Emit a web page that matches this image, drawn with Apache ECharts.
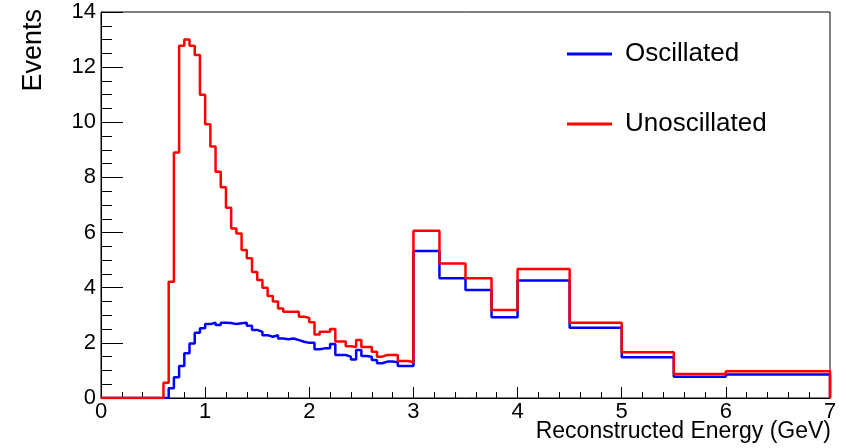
<!DOCTYPE html>
<html>
<head>
<meta charset="utf-8">
<script src="https://cdn.jsdelivr.net/npm/echarts@6/dist/echarts.min.js"></script>
<style>
  html, body { margin: 0; padding: 0; background: #fff; }
  #chart { width: 846px; height: 448px; }
</style>
</head>
<body>
<div id="chart"></div>
<script>
  // fine binning 0..3 GeV, then coarse bins up to 7 GeV
  const fineBinWidth = 0.05
  const fineBinCount = 60
  const coarseEdges = [3, 3.25, 3.5, 3.75, 4, 4.5, 5, 5.5, 6, 7]

  const oscillatedFine = [
    0, 0, 0, 0, 0, 0, 0, 0, 0, 0,
    0, 0, 0, 0.35, 0.75, 1.16, 1.62, 1.98, 2.37, 2.53,
    2.68, 2.73, 2.65, 2.73, 2.72, 2.68, 2.71, 2.73, 2.62, 2.47,
    2.4, 2.28, 2.22, 2.28, 2.16, 2.13, 2.16, 2.1, 2.04, 2.0,
    2.0, 1.77, 1.8, 1.8, 1.96, 1.56, 1.56, 1.5, 1.4, 1.74,
    1.52, 1.5, 1.38, 1.26, 1.32, 1.32, 1.3, 1.16, 1.16, 1.16
  ]
  const unoscillatedFine = [
    0, 0, 0, 0, 0, 0, 0, 0, 0, 0,
    0, 0, 0.55, 4.22, 8.9, 12.78, 13.0, 12.78, 12.44, 11.0,
    9.93, 9.12, 8.21, 7.64, 6.9, 6.15, 5.97, 5.37, 5.07, 4.57,
    4.28, 4.0, 3.7, 3.5, 3.25, 3.13, 3.13, 3.13, 2.95, 2.9,
    2.75, 2.3, 2.4, 2.4, 2.5, 2.05, 2.05, 1.88, 1.85, 2.1,
    1.85, 1.85, 1.68, 1.5, 1.56, 1.56, 1.56, 1.34, 1.34, 1.3
  ]
  const oscillatedCoarse = [5.33, 4.34, 3.92, 2.93, 4.26, 2.55, 1.48, 0.77, 0.85]
  const unoscillatedCoarse = [6.07, 4.88, 4.34, 3.19, 4.68, 2.73, 1.66, 0.87, 0.97]

  const xTicks = [0, 1, 2, 3, 4, 5, 6, 7]
  const yTicks = [0, 2, 4, 6, 8, 10, 12, 14]

  const fineEdges = []
  for (let i = 0; i <= fineBinCount; i++) {
    fineEdges.push(+(i * fineBinWidth).toFixed(2))
  }
  const edges = fineEdges.concat(coarseEdges.slice(1))

  // histogram outline as in ROOT: flat tops joined by verticals
  const histPoints = (values) => {
    const pts = [[edges[0], 0]]
    values.forEach((v, i) => {
      pts.push([edges[i], v])
      pts.push([edges[i + 1], v])
    })
    pts.push([edges[edges.length - 1], 0])
    return pts
  }

  const font = 'Liberation Sans, Arial, Helvetica, sans-serif'

  const chart = echarts.init(document.getElementById('chart'))
  chart.setOption({
    animation: false,
    backgroundColor: '#fff',
    grid: {
      left: 101,
      right: 16,
      top: 12,
      bottom: 50,
      show: true,
      borderColor: '#000',
      borderWidth: 1,
      backgroundColor: 'transparent'
    },
    xAxis: {
      type: 'value',
      min: xTicks[0],
      max: xTicks[xTicks.length - 1],
      interval: 1,
      axisLine: { lineStyle: { color: '#000', width: 1 } },
      axisTick: { inside: true, length: 11, lineStyle: { color: '#000' } },
      minorTick: { show: true, splitNumber: 5, length: 6, lineStyle: { color: '#000' } },
      splitLine: { show: false },
      axisLabel: { color: '#000', fontSize: 22, fontFamily: font, margin: 3 }
    },
    yAxis: {
      type: 'value',
      min: yTicks[0],
      max: yTicks[yTicks.length - 1],
      interval: 2,
      axisLine: { lineStyle: { color: '#000', width: 1 } },
      axisTick: { inside: true, length: 22, lineStyle: { color: '#000' } },
      minorTick: { show: true, splitNumber: 4, length: 11, lineStyle: { color: '#000' } },
      splitLine: { show: false },
      axisLabel: { color: '#000', fontSize: 22, fontFamily: font, margin: 5 }
    },
    legend: {
      orient: 'vertical',
      left: 567,
      top: 39,
      padding: 0,
      itemGap: 40,
      itemWidth: 45,
      itemHeight: 3,
      icon: 'rect',
      textStyle: { color: '#000', fontSize: 26, fontFamily: font, lineHeight: 30, padding: [0, 0, 0, 8] },
      data: ['Oscillated', 'Unoscillated']
    },
    graphic: [
      {
        type: 'text',
        x: 34,
        y: 9,
        rotation: Math.PI / 2,
        style: {
          text: 'Events',
          fill: '#000',
          font: '27px ' + font,
          align: 'right',
          verticalAlign: 'middle'
        }
      },
      {
        type: 'text',
        x: 831,
        y: 432,
        style: {
          text: 'Reconstructed Energy (GeV)',
          fill: '#000',
          font: '23px ' + font,
          align: 'right',
          verticalAlign: 'middle'
        }
      }
    ],
    series: [
      {
        name: 'Oscillated',
        type: 'line',
        data: histPoints(oscillatedFine.concat(oscillatedCoarse)),
        symbol: 'none',
        color: '#0000ff',
        lineStyle: { width: 2.5, color: '#0000ff' }
      },
      {
        name: 'Unoscillated',
        type: 'line',
        data: histPoints(unoscillatedFine.concat(unoscillatedCoarse)),
        symbol: 'none',
        color: '#ff0000',
        lineStyle: { width: 2.5, color: '#ff0000' }
      }
    ]
  })
</script>
</body>
</html>
